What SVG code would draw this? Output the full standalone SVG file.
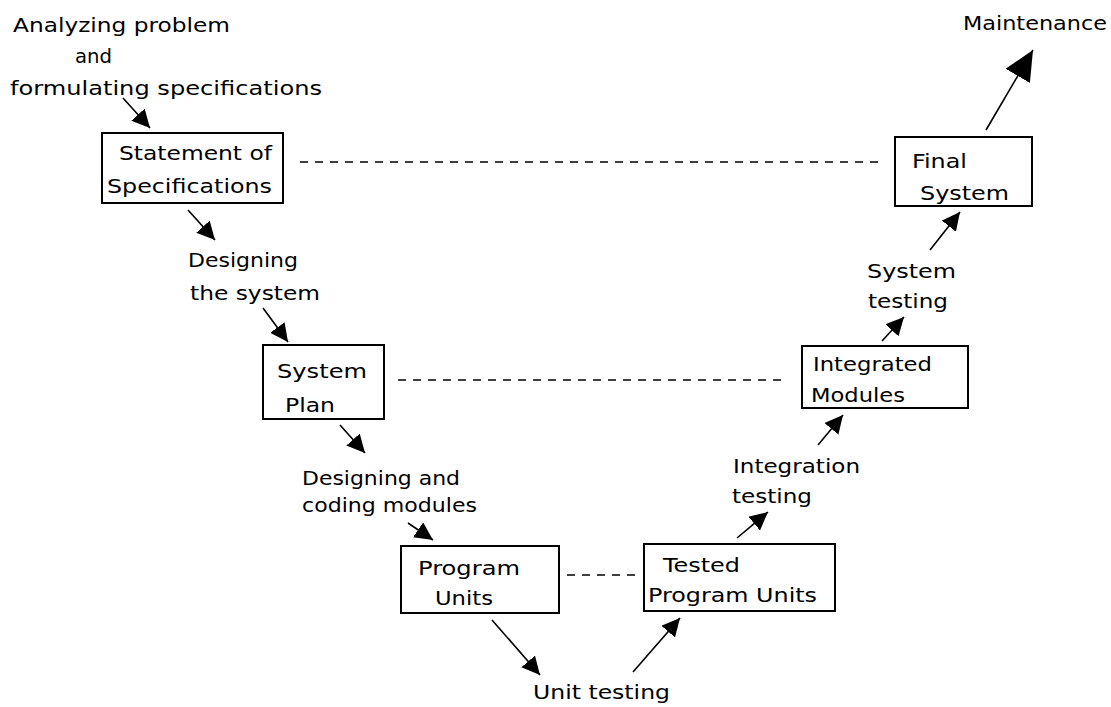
<svg xmlns="http://www.w3.org/2000/svg" width="1111" height="707" viewBox="0 0 1111 707">
<defs>
<style>
text{font-family:"DejaVu Sans","Liberation Sans",sans-serif;font-size:20px;fill:#000}
.box{fill:#fff;stroke:#000;stroke-width:2}
.dash{stroke:#000;stroke-width:1.5;stroke-dasharray:8 7;fill:none}
.arr{stroke:#000;stroke-width:1.6;fill:none;marker-end:url(#ah)}
.arrL{stroke:#000;stroke-width:1.6;fill:none;marker-end:url(#ahL)}
</style>
<marker id="ah" markerWidth="20" markerHeight="20" refX="18" refY="9" orient="auto" markerUnits="userSpaceOnUse"><path d="M0,0 L18,9 L0,18 z" fill="#000"/></marker>
<marker id="ahL" markerWidth="32" markerHeight="32" refX="30" refY="14" orient="auto" markerUnits="userSpaceOnUse"><path d="M0,0 L30,14 L0,28 z" fill="#000"/></marker>
</defs>
<rect width="1111" height="707" fill="#fff"/>
<g id="connectors">
<line class="dash" x1="300" y1="162" x2="880" y2="162"/>
<line class="dash" x1="398" y1="380" x2="788" y2="380"/>
<line class="dash" x1="567" y1="575" x2="638" y2="575"/>
<line class="arr" x1="123" y1="98" x2="150" y2="128"/>
<line class="arr" x1="188" y1="210" x2="215" y2="240"/>
<line class="arr" x1="263" y1="308" x2="288" y2="342"/>
<line class="arr" x1="340" y1="425" x2="365" y2="453"/>
<line class="arr" x1="408" y1="523" x2="433" y2="540"/>
<line class="arr" x1="492" y1="620" x2="540" y2="675"/>
<line class="arr" x1="633" y1="672" x2="680" y2="618"/>
<line class="arr" x1="737" y1="538" x2="768" y2="512"/>
<line class="arr" x1="818" y1="445" x2="843" y2="415"/>
<line class="arr" x1="882" y1="341" x2="904" y2="317"/>
<line class="arr" x1="930" y1="250" x2="960" y2="212"/>
<line class="arrL" x1="986" y1="130" x2="1033" y2="50"/>
</g>
<g id="labels">
<text x="13" y="32" textLength="217" lengthAdjust="spacingAndGlyphs">Analyzing problem</text>
<text x="75" y="63" textLength="37" lengthAdjust="spacingAndGlyphs">and</text>
<text x="10" y="95" textLength="312" lengthAdjust="spacingAndGlyphs">formulating specifications</text>
<text x="188" y="267" textLength="110" lengthAdjust="spacingAndGlyphs">Designing</text>
<text x="190" y="300" textLength="130" lengthAdjust="spacingAndGlyphs">the system</text>
<text x="302" y="485" textLength="158" lengthAdjust="spacingAndGlyphs">Designing and</text>
<text x="302" y="512" textLength="175" lengthAdjust="spacingAndGlyphs">coding modules</text>
<text x="533" y="699" textLength="137" lengthAdjust="spacingAndGlyphs">Unit testing</text>
<text x="733" y="473" textLength="127" lengthAdjust="spacingAndGlyphs">Integration</text>
<text x="732" y="503" textLength="80" lengthAdjust="spacingAndGlyphs">testing</text>
<text x="867" y="278" textLength="89" lengthAdjust="spacingAndGlyphs">System</text>
<text x="868" y="308" textLength="80" lengthAdjust="spacingAndGlyphs">testing</text>
<text x="963" y="30" textLength="144" lengthAdjust="spacingAndGlyphs">Maintenance</text>
</g>
<g id="node-statement">
<rect class="box" x="102" y="133" width="181" height="70"/>
<text x="119" y="160" textLength="153" lengthAdjust="spacingAndGlyphs">Statement of</text>
<text x="107" y="193" textLength="165" lengthAdjust="spacingAndGlyphs">Specifications</text>
</g>
<g id="node-system-plan">
<rect class="box" x="263" y="345" width="121" height="74"/>
<text x="277" y="378" textLength="90" lengthAdjust="spacingAndGlyphs">System</text>
<text x="285" y="412" textLength="50" lengthAdjust="spacingAndGlyphs">Plan</text>
</g>
<g id="node-program-units">
<rect class="box" x="401" y="546" width="158" height="67"/>
<text x="418" y="575" textLength="102" lengthAdjust="spacingAndGlyphs">Program</text>
<text x="435" y="605" textLength="58" lengthAdjust="spacingAndGlyphs">Units</text>
</g>
<g id="node-tested">
<rect class="box" x="644" y="544" width="191" height="67"/>
<text x="663" y="572" textLength="77" lengthAdjust="spacingAndGlyphs">Tested</text>
<text x="648" y="602" textLength="169" lengthAdjust="spacingAndGlyphs">Program Units</text>
</g>
<g id="node-integrated">
<rect class="box" x="802" y="346" width="166" height="62"/>
<text x="813" y="371" textLength="119" lengthAdjust="spacingAndGlyphs">Integrated</text>
<text x="811" y="402" textLength="94" lengthAdjust="spacingAndGlyphs">Modules</text>
</g>
<g id="node-final">
<rect class="box" x="895" y="137" width="137" height="69"/>
<text x="912" y="168" textLength="55" lengthAdjust="spacingAndGlyphs">Final</text>
<text x="920" y="200" textLength="89" lengthAdjust="spacingAndGlyphs">System</text>
</g>
</svg>
